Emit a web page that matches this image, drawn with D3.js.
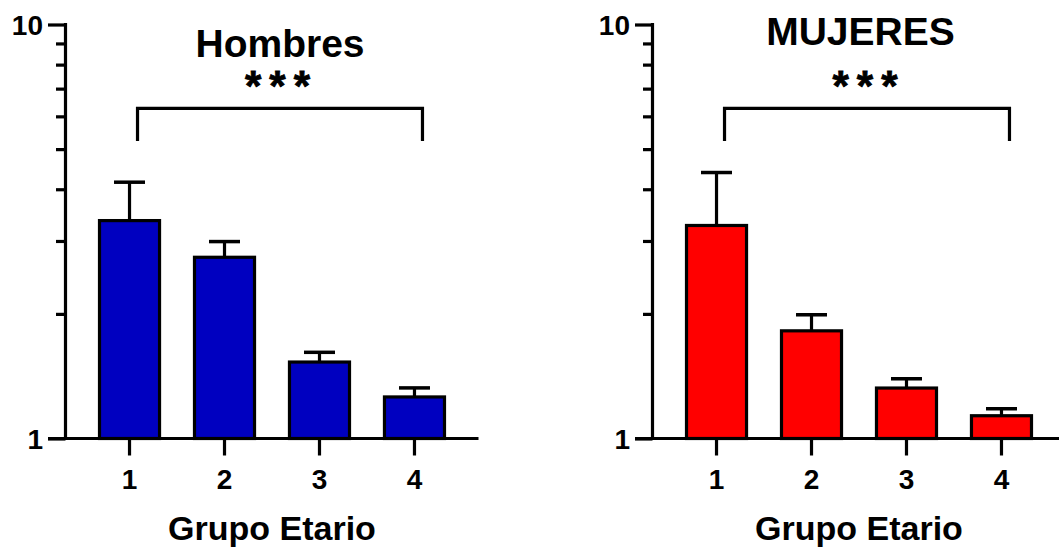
<!DOCTYPE html>
<html>
<head>
<meta charset="utf-8">
<script src="https://cdn.jsdelivr.net/npm/d3@7"></script>
<style>
  body { margin: 0; background: #fff; }
  text { font-family: 'Liberation Sans', Arial, sans-serif; font-weight: bold; fill: #000; }
</style>
</head>
<body>
<div id="chart"></div>
<script>
// data
const groups = ['1', '2', '3', '4']
const menMeans = [3.36, 2.74, 1.53, 1.26]
const menUpper = [4.16, 2.99, 1.615, 1.325]
const womenMeans = [3.27, 1.82, 1.324, 1.135]
const womenUpper = [4.39, 1.99, 1.394, 1.18]
const yTicks = [1, 10]
const yMinorTicks = [2, 3, 4, 5, 6, 7, 8, 9]

const width = 1059
const height = 548

const svg = d3.select('#chart')
  .append('svg')
  .attr('width', width)
  .attr('height', height)

const yScale = d3.scaleLog().domain([1, 10]).range([438.5, 24.5])

function drawPanel(opts) {
  const g = svg.append('g')
    .attr('transform', 'translate(' + opts.left + ',0)')

  const x = d3.scaleBand()
    .domain(groups)
    .range([0, 413])
    .paddingInner(0.368)
    .paddingOuter(0.358)

  const data = groups.map((k, i) => ({ key: k, mean: opts.means[i], upper: opts.upper[i] }))

  // error bars (behind the bars)
  const err = g.selectAll('.err').data(data).enter().append('g')
  err.append('line')
    .attr('x1', d => x(d.key) + x.bandwidth() / 2)
    .attr('x2', d => x(d.key) + x.bandwidth() / 2)
    .attr('y1', d => yScale(d.mean))
    .attr('y2', d => yScale(d.upper))
    .attr('stroke', '#000')
    .attr('stroke-width', 3.2)
  err.append('line')
    .attr('x1', d => x(d.key) + x.bandwidth() / 2 - 15.5)
    .attr('x2', d => x(d.key) + x.bandwidth() / 2 + 15.5)
    .attr('y1', d => yScale(d.upper))
    .attr('y2', d => yScale(d.upper))
    .attr('stroke', '#000')
    .attr('stroke-width', 3.5)

  // bars
  g.selectAll('.bar').data(data).enter().append('rect')
    .attr('x', d => x(d.key))
    .attr('width', x.bandwidth())
    .attr('y', d => yScale(d.mean))
    .attr('height', d => yScale(1) - yScale(d.mean))
    .attr('fill', opts.color)
    .attr('stroke', '#000')
    .attr('stroke-width', 3.2)

  // y axis
  const yAxis = d3.axisLeft(yScale)
    .tickValues(yTicks)
    .tickFormat(d3.format('d'))
    .tickSize(17.5)
    .tickPadding(5)
  const ya = g.append('g').attr('class', 'y-axis').call(yAxis)
  ya.select('.domain').remove()
  ya.selectAll('line').attr('stroke', '#000').attr('stroke-width', 3.2)
  ya.selectAll('text').style('font-size', '28px').attr('dy', '0.36em')

  const yMinor = d3.axisLeft(yScale)
    .tickValues(yMinorTicks)
    .tickFormat('')
    .tickSize(9.5)
  const ym = g.append('g').call(yMinor)
  ym.select('.domain').remove()
  ym.selectAll('line').attr('stroke', '#000').attr('stroke-width', 3.2)

  g.append('line')
    .attr('x1', 0).attr('x2', 0)
    .attr('y1', yScale(1)).attr('y2', yScale(10) - 1.6)
    .attr('stroke', '#000').attr('stroke-width', 3.2)

  // x axis
  const xAxis = d3.axisBottom(x).tickSize(17).tickPadding(14)
  const xa = g.append('g')
    .attr('transform', 'translate(0,' + yScale(1) + ')')
    .call(xAxis)
  xa.select('.domain').remove()
  xa.selectAll('line').attr('stroke', '#000').attr('stroke-width', 3.2)
  xa.selectAll('text').style('font-size', '28px')

  g.append('line')
    .attr('x1', -17.5).attr('x2', 413)
    .attr('y1', yScale(1)).attr('y2', yScale(1))
    .attr('stroke', '#000').attr('stroke-width', 3.2)

  // axis title
  g.append('text')
    .attr('x', (x('1') + x('4') + x.bandwidth()) / 2)
    .attr('y', 540)
    .attr('text-anchor', 'middle')
    .style('font-size', '34px')
    .text('Grupo Etario')

  // chart title
  g.append('text')
    .attr('x', opts.titleX)
    .attr('y', opts.titleY)
    .attr('text-anchor', 'middle')
    .style('font-size', '39px')
    .text(opts.title)

  // significance bracket between groups 1 and 4
  const bx1 = x('1') + x.bandwidth() / 2 + 8
  const bx2 = x('4') + x.bandwidth() / 2 + 8
  g.append('path')
    .attr('d', 'M' + bx1 + ',141 V108.3 H' + bx2 + ' V141')
    .attr('fill', 'none')
    .attr('stroke', '#000')
    .attr('stroke-width', 3.2)
  g.append('text')
    .attr('x', opts.starX + 4)
    .attr('y', 100)
    .attr('text-anchor', 'middle')
    .style('font-size', '42px')
    .style('letter-spacing', '8px')
    .style('stroke', '#000')
    .style('stroke-width', '0.8px')
    .text('***')
}

drawPanel({ left: 65.5, means: menMeans, upper: menUpper, color: '#0000C0',
  title: 'Hombres', titleX: 214.5, titleY: 57, starX: 212 })
drawPanel({ left: 652.5, means: womenMeans, upper: womenUpper, color: '#FF0000',
  title: 'MUJERES', titleX: 208, titleY: 44.5, starX: 212.5 })
</script>
</body>
</html>
